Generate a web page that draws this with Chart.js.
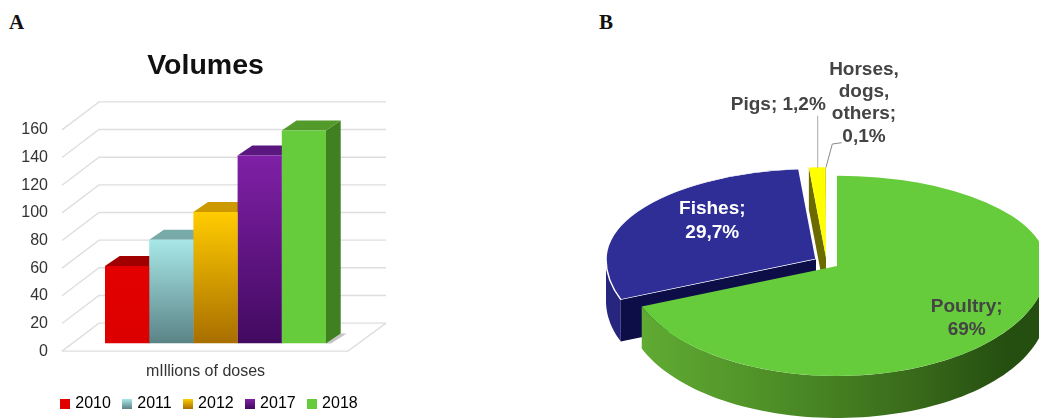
<!DOCTYPE html>
<html lang="en">
<head>
  <meta charset="UTF-8">
  <title>Volumes and species</title>
  <script src="https://cdn.jsdelivr.net/npm/chart.js"></script>
  <style>
    html, body { margin: 0; padding: 0; width: 1039px; height: 419px; overflow: hidden; background: #fff; }
    canvas { position: absolute; }
    #barChart { left: 0; top: 0; }
    #pieChart { left: 590px; top: 19px; }
    .panel { position: absolute; font: bold 21px "Liberation Serif", serif; color: #111; line-height: 24px; }
  </style>
</head>
<body>
  <div class="panel" style="left:9px; top:10px">A</div>
  <div class="panel" style="left:599px; top:10px">B</div>
  <canvas id="barChart" width="411" height="422"></canvas>
  <canvas id="pieChart" width="494" height="494"></canvas>

  <script>
    const years = ['2010', '2011', '2012', '2017', '2018'];
    const doses = [56, 75, 95, 136, 154];
    const doseTicks = [0, 20, 40, 60, 80, 100, 120, 140, 160];
    const sectors = ['Poultry', 'Fishes', 'Pigs', 'Horses, dogs, others'];
    const shares = [69, 29.7, 1.2, 0.1];

    // colours: front top, front bottom, top face, side face
    const barColors = [
      ['#e30000', '#dc0000', '#a00000', '#8a0000'],
      ['#a8e8e8', '#5b8386', '#78aaaa', '#4f7577'],
      ['#ffcc00', '#a86e00', '#cc9900', '#8a5c00'],
      ['#7f20a6', '#420a60', '#5a1780', '#3a0a55'],
      ['#66cc3c', '#66cc3c', '#529a2a', '#408020']
    ];
    const sectorColors = ['#66cc3c', '#2e2e96', '#ffff00', '#e6d800'];

    const FONT = '"Liberation Sans", Arial, sans-serif';
    const GRID = '#dedede';

    function swatch(c) {
      const cv = document.createElement('canvas');
      cv.width = 10; cv.height = 10;
      const x = cv.getContext('2d');
      const g = x.createLinearGradient(0, 0, 0, 10);
      g.addColorStop(0, c[0]);
      g.addColorStop(1, c[1]);
      x.fillStyle = g;
      x.fillRect(0, 0, 10, 10);
      return cv;
    }

    function poly(ctx, pts, fill) {
      ctx.beginPath();
      pts.forEach((p, i) => i ? ctx.lineTo(p[0], p[1]) : ctx.moveTo(p[0], p[1]));
      ctx.closePath();
      ctx.fillStyle = fill;
      ctx.fill();
    }

    // back wall, side wall, floor and the depth of the bars
    const box3d = {
      id: 'box3d',
      afterLayout(chart) {
        // legend sits a little right of the title
        chart.legend.left += 5;
        chart.legend.right += 5;
      },
      beforeDatasetsDraw(chart) {
        const { ctx, chartArea, scales } = chart;
        const frontL = chartArea.left - 8, backL = chartArea.left + 29;
        const backR = chartArea.right + 25, frontR = chartArea.right - 13;
        const front = 7.7, back = -20.3;
        ctx.save();
        ctx.strokeStyle = GRID;
        ctx.lineWidth = 1.4;
        doseTicks.forEach(v => {
          const y = scales.y.getPixelForValue(v);
          ctx.beginPath();
          ctx.moveTo(frontL, y + front);
          ctx.lineTo(backL, y + back);
          ctx.lineTo(backR, y + back);
          ctx.stroke();
        });
        const y0 = scales.y.getPixelForValue(0);
        ctx.beginPath();
        ctx.moveTo(frontL, y0 + front);
        ctx.lineTo(frontR, y0 + front);
        ctx.lineTo(backR, y0 + back);
        ctx.stroke();

        const dx = 14.7, dy = 10;
        chart.data.datasets.forEach((ds, i) => {
          const bar = chart.getDatasetMeta(i).data[0];
          const l = bar.x - bar.width / 2, r = bar.x + bar.width / 2;
          if (i === years.length - 1) {
            poly(ctx, [[r, bar.base], [r + dx, bar.base - dy], [r + dx + 6, bar.base - dy], [r + 5, bar.base]], 'rgba(60,60,60,0.3)');
          }
          poly(ctx, [[r, bar.y], [r + dx, bar.y - dy], [r + dx, bar.base - dy], [r, bar.base]], barColors[i][3]);
          poly(ctx, [[l, bar.y], [l + dx, bar.y - dy], [r + dx, bar.y - dy], [r, bar.y]], barColors[i][2]);
        });
        ctx.restore();
      }
    };

    new Chart(document.getElementById('barChart'), {
      type: 'bar',
      plugins: [box3d],
      data: {
        labels: ['mIllions of doses'],
        datasets: years.map((y, i) => ({
          label: y,
          data: [doses[i]],
          categoryPercentage: 0.7595,
          barPercentage: 1,
          borderWidth: 0,
          backgroundColor(c) {
            if (!c.chart.chartArea) return barColors[i][0];
            const s = c.chart.scales.y;
            const g = c.chart.ctx.createLinearGradient(0, s.getPixelForValue(doses[i]), 0, s.getPixelForValue(0));
            g.addColorStop(0, barColors[i][0]);
            g.addColorStop(1, barColors[i][1]);
            return g;
          }
        }))
      },
      options: {
        responsive: false,
        animation: false,
        events: [],
        scales: {
          x: {
            grid: { display: false, drawTicks: false },
            border: { display: false },
            ticks: { color: '#333', font: { family: FONT, size: 16 }, padding: 19, labelOffset: -10, maxRotation: 0 },
            afterFit(s) { s.height = 38.2; }
          },
          y: {
            min: 0,
            max: 160,
            grid: { display: false, drawTicks: false },
            border: { display: false },
            ticks: { stepSize: 20, color: '#333', font: { family: FONT, size: 16 }, padding: 22, labelOffset: 7.7 },
            afterFit(s) { s.width = 70; }
          },
          // empty axis, only keeps room on the right for the 3D wall
          yRight: {
            type: 'linear',
            position: 'right',
            grid: { display: false, drawTicks: false },
            border: { display: false },
            ticks: { display: false },
            afterFit(s) { s.width = 50; }
          }
        },
        plugins: {
          tooltip: { enabled: false },
          title: {
            display: true,
            text: 'Volumes',
            color: '#111',
            font: { family: FONT, size: 28.5, weight: 'bold' },
            padding: { top: 49.5, bottom: 38.5 }
          },
          legend: {
            position: 'bottom',
            labels: {
              usePointStyle: true,
              boxWidth: 4,
              padding: 14.4,
              color: '#333',
              font: { family: FONT, size: 16 },
              generateLabels: () => years.map((y, i) => ({
                text: y,
                pointStyle: swatch(barColors[i]),
                datasetIndex: i,
                hidden: false,
                lineWidth: 0
              }))
            }
          }
        }
      }
    });

    // pie is tilted: the half behind the apex is squashed more than the half in front
    const kBack = 90.3 / 210, kFront = 110 / 210;
    const depth = 42;
    const sliceShift = [[0, 0], [-21, -7], [-11, -8.5], [-11, -8.5]];

    function drawFace(ctx, arc, shift) {
      [[kBack, -600, 600], [kFront, 0, 600]].forEach(([k, top, h]) => {
        ctx.save();
        ctx.translate(shift[0], arc.y + shift[1]);
        ctx.beginPath();
        ctx.rect(-100, top, 800, h);
        ctx.clip();
        ctx.scale(1, k);
        ctx.translate(0, -arc.y);
        arc.draw(ctx);
        ctx.restore();
      });
    }

    function rimPoint(arc, shift, a) {
      const s = Math.sin(a);
      return [arc.x + shift[0] + arc.outerRadius * Math.cos(a),
              arc.y + shift[1] + arc.outerRadius * s * (s < 0 ? kBack : kFront)];
    }

    // outer wall of a slice, only the part that faces the viewer
    function drawRim(ctx, arc, shift, fill) {
      const a0 = Math.max(arc.startAngle, 0), a1 = Math.min(arc.endAngle, Math.PI);
      if (a1 <= a0) return;
      const top = [], bottom = [];
      for (let i = 0; i <= 80; i++) {
        const p = rimPoint(arc, shift, a0 + (a1 - a0) * i / 80);
        top.push(p);
        bottom.unshift([p[0], p[1] + depth]);
      }
      poly(ctx, top.concat(bottom), fill);
    }

    // cut face from the apex to the rim at angle a
    function drawCut(ctx, arc, shift, a, fill) {
      const c = [arc.x + shift[0], arc.y + shift[1]];
      const r = rimPoint(arc, shift, a);
      poly(ctx, [c, r, [r[0], r[1] + depth], [c[0], c[1] + depth]], fill);
    }

    const tiltedPie = {
      id: 'tiltedPie',
      beforeDatasetsDraw(chart) {
        const { ctx } = chart;
        const arcs = chart.getDatasetMeta(0).data;
        const [poultry, fishes, pigs, others] = arcs;

        drawCut(ctx, pigs, sliceShift[2], pigs.startAngle, '#6b6b00');
        drawFace(ctx, others, sliceShift[3]);
        drawFace(ctx, pigs, sliceShift[2]);

        drawRim(ctx, fishes, sliceShift[1], '#26267f');
        drawCut(ctx, fishes, sliceShift[1], fishes.startAngle, '#0d0d48');
        drawFace(ctx, fishes, sliceShift[1]);

        const g = ctx.createLinearGradient(poultry.x - 210, 0, poultry.x + 210, 0);
        g.addColorStop(0, '#62ae34');
        g.addColorStop(0.35, '#4e8f27');
        g.addColorStop(0.7, '#37681a');
        g.addColorStop(0.9, '#254f10');
        drawRim(ctx, poultry, sliceShift[0], g);
        drawFace(ctx, poultry, sliceShift[0]);
        return false;
      },
      afterDraw(chart) {
        const { ctx } = chart;
        const pct = i => String(shares[i]).replace('.', ',') + '%';
        const ink = '#444';
        ctx.save();
        ctx.lineWidth = 1;
        ctx.strokeStyle = '#aaa';
        ctx.beginPath();
        ctx.moveTo(227.7, 96.7);
        ctx.lineTo(227.7, 148.7);
        ctx.stroke();
        ctx.strokeStyle = '#888';
        ctx.beginPath();
        ctx.moveTo(251.7, 123.7);
        ctx.lineTo(242.3, 125);
        ctx.lineTo(236, 148.3);
        ctx.stroke();

        ctx.font = 'bold 19px ' + FONT;
        ctx.textAlign = 'center';
        ctx.textBaseline = 'middle';
        ctx.fillStyle = ink;
        ctx.fillText(sectors[0] + ';', 376.7, 287.7);
        ctx.fillText(pct(0), 376.7, 310.3);
        ctx.fillText(sectors[2] + '; ' + pct(2), 188.3, 86);
        const words = sectors[3].split(' ');
        words.concat(pct(3)).forEach((w, i) => {
          ctx.fillText(i === 2 ? w + ';' : w, 274, 50.3 + i * 22.4);
        });
        ctx.fillStyle = '#fff';
        ctx.fillText(sectors[1] + ';', 122.3, 190);
        ctx.fillText(pct(1), 122.3, 213.3);
        ctx.restore();
      }
    };

    new Chart(document.getElementById('pieChart'), {
      type: 'pie',
      plugins: [tiltedPie],
      data: {
        labels: sectors,
        datasets: [{
          data: shares,
          backgroundColor: sectorColors,
          borderColor: '#fff',
          borderWidth: [0, 1.5, 0, 0],
          radius: 210
        }]
      },
      options: {
        responsive: false,
        animation: false,
        events: [],
        plugins: { legend: { display: false }, tooltip: { enabled: false } }
      }
    });
  </script>
</body>
</html>
